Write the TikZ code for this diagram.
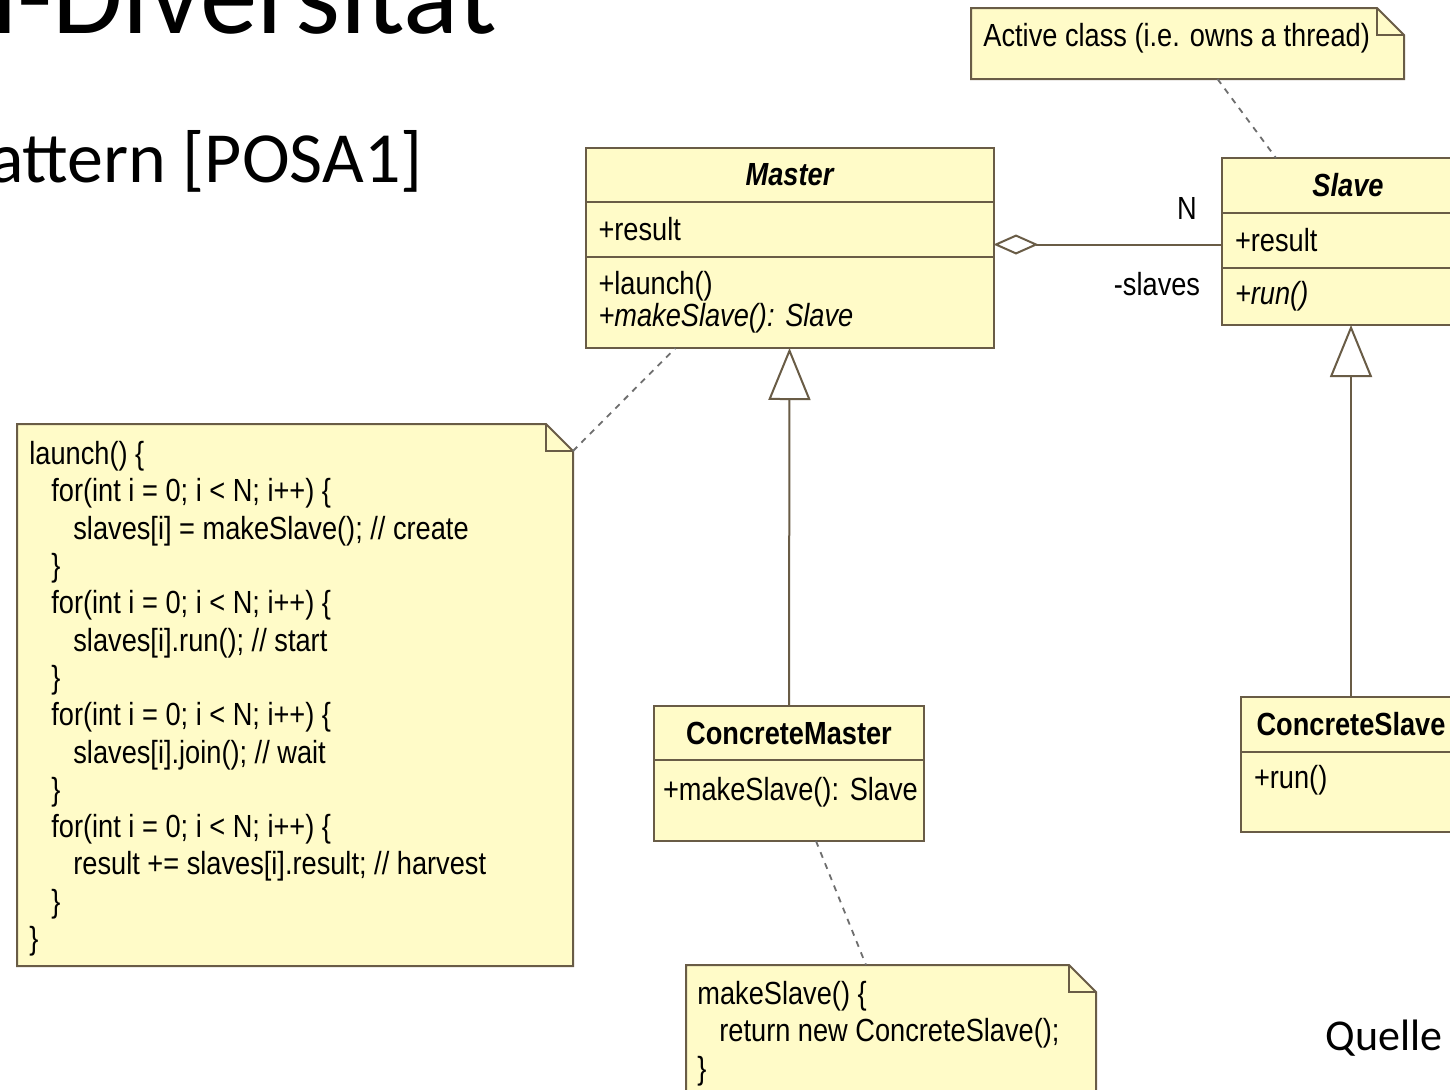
\documentclass[tikz,border=0pt]{standalone}
\usepackage{fontspec}
\setmainfont{Carlito}
\newfontfamily\umlfont[FakeStretch=0.85]{Liberation Sans}
\usepackage{tikz}
\usetikzlibrary{positioning}
\usetikzlibrary{arrows.meta}
\usepackage{xcolor}

\definecolor{umlfill}{RGB}{255,251,200}
\definecolor{umlline}{RGB}{105,92,70}
\definecolor{dashline}{RGB}{110,110,110}

\newcommand{\umltext}{\umlfont\fontsize{16pt}{18.65pt}\selectfont}
\newcommand{\codeindent}{\hspace*{11pt}}
\newcommand{\foldnote}[1]{%
  \filldraw[notepaper] (#1.south west) -- (#1.north west)
    -- ([xshift=-13.5pt]#1.north east) -- ([yshift=-13.5pt]#1.north east)
    -- (#1.south east) -- cycle;
  \draw[notepaper, fill=none] ([xshift=-13.5pt]#1.north east)
    |- ([yshift=-13.5pt]#1.north east);}

\begin{document}
\begin{tikzpicture}[x=0.5pt, y=-0.5pt,
    classhead/.style={draw=umlline, fill=umlfill, line width=1pt, inner sep=0pt, outer sep=0pt, font=\umltext\bfseries},
    classpart/.style={draw=umlline, fill=umlfill, line width=1pt, inner xsep=6.5pt, inner ysep=0pt, outer sep=0pt, font=\umltext, align=left},
    notepaper/.style={draw=umlline, fill=umlfill, line width=1pt},
    notebox/.style={inner sep=0pt, outer sep=0pt},
    notetext/.style={inner sep=0pt, font=\umltext, align=left, anchor=north west},
    umllabel/.style={inner sep=0pt, font=\umltext},
    anchorline/.style={draw=dashline, line width=0.9pt, dash pattern=on 3pt off 3pt},
    generalize/.style={draw=umlline, line width=1pt, -{Triangle[open, length=26pt, width=21pt]}},
    aggregate/.style={draw=umlline, line width=1pt, -{Diamond[open, length=22.5pt, width=10pt]}},
    slidetext/.style={inner sep=0pt, text=black}]
    \useasboundingbox (0,0) rectangle (1450,1089);
    \clip (0,0) rectangle (1450,1089);
    \fill[white] (0,0) rectangle (1450,1089);

    % slide text
    \node[slidetext, anchor=base east, font=\fontsize{57.5pt}{69pt}\selectfont] (title) at (497,33) {n-Diversität};
    \node[slidetext, anchor=base east, font=\fontsize{36pt}{43pt}\selectfont] (subtitle) at (423,182) {attern [POSA1]};
    \node[slidetext, anchor=base west, font=\fontsize{22pt}{26pt}\selectfont] (source) at (1325,1050) {Quelle};

    % classes
    \node[classhead, minimum width=204pt, minimum height=27pt] (master) at (789.5,175) {\itshape Master};
    \node[classpart, below=0pt of master, text width=191pt, minimum height=27.5pt] (masterattr) {+result};
    \node[classpart, below=0pt of masterattr, text width=191pt, minimum height=45.5pt] (masterops) {+launch()\\[-2.6pt]\itshape +makeSlave():~Slave};

    \node[classhead, minimum width=126pt, minimum height=27.5pt] (slave) at (1348,185.5) {\itshape Slave};
    \node[classpart, below=0pt of slave, text width=113pt, minimum height=27.5pt] (slaveattr) {+result};
    \node[classpart, below=0pt of slaveattr, text width=113pt, minimum height=28.5pt] (slaveops) {\itshape +run()};

    \node[classhead, minimum width=135pt, minimum height=27pt] (cmaster) at (789,733) {ConcreteMaster};
    \node[classpart, below=0pt of cmaster, text width=126pt, inner xsep=4.5pt, minimum height=40.5pt, text depth=12pt] (cmasterops) {+makeSlave():~Slave};

    \node[classhead, minimum width=110pt, minimum height=27.5pt] (cslave) at (1351,724.5) {ConcreteSlave};
    \node[classpart, below=0pt of cslave, text width=97pt, minimum height=40pt, text depth=15.4pt] (cslaveops) {+run()};

    % notes
    \node[notebox, minimum width=216.5pt, minimum height=35.5pt] (activenote) at (1187.5,43.5) {};
    \foldnote{activenote}
    \node[notetext, below right=7.5pt and 6pt of activenote.north west] (activetext) {Active class (i.e. owns a thread)};

    \node[notebox, minimum width=278pt, minimum height=271pt] (launchnote) at (295,695) {};
    \foldnote{launchnote}
    \node[notetext, below right=8.5pt and 6pt of launchnote.north west] (launchcode) {launch() \{\\
        \codeindent for(int i = 0; i < N; i++) \{\\
        \codeindent\codeindent slaves[i] = makeSlave(); // create\\
        \codeindent\}\\
        \codeindent for(int i = 0; i < N; i++) \{\\
        \codeindent\codeindent slaves[i].run(); // start\\
        \codeindent\}\\
        \codeindent for(int i = 0; i < N; i++) \{\\
        \codeindent\codeindent slaves[i].join(); // wait\\
        \codeindent\}\\
        \codeindent for(int i = 0; i < N; i++) \{\\
        \codeindent\codeindent result += slaves[i].result; // harvest\\
        \codeindent\}\\
        \}};

    \node[notebox, minimum width=205pt, minimum height=72.5pt] (makenote) at (891,1037.5) {};
    \foldnote{makenote}
    \node[notetext, below right=8pt and 5.5pt of makenote.north west] (makecode) {makeSlave() \{\\
        \codeindent return new ConcreteSlave();\\
        \}};

    % connectors
    \draw[generalize] (cmaster.north) -- (masterops.south);
    \draw[generalize] (cslave.north) -- (cslave.north |- slaveops.south);
    \coordinate (aggend) at ([yshift=-2pt]slaveattr.west);
    \draw[aggregate] (aggend) -- (aggend -| masterattr.east);
    \node[umllabel] (multn) at (1187,208) {N};
    \node[umllabel] (rolename) at (1157,284) {-slaves};

    \draw[anchorline] ([xshift=15pt]activenote.south) -- ([xshift=-36pt]slave.north);
    \draw[anchorline] ([yshift=-13.5pt]launchnote.north east) -- ([xshift=45pt]masterops.south west);
    \draw[anchorline] ([xshift=13.5pt]cmasterops.south) -- ([xshift=-12.5pt]makenote.north);
\end{tikzpicture}
\end{document}
